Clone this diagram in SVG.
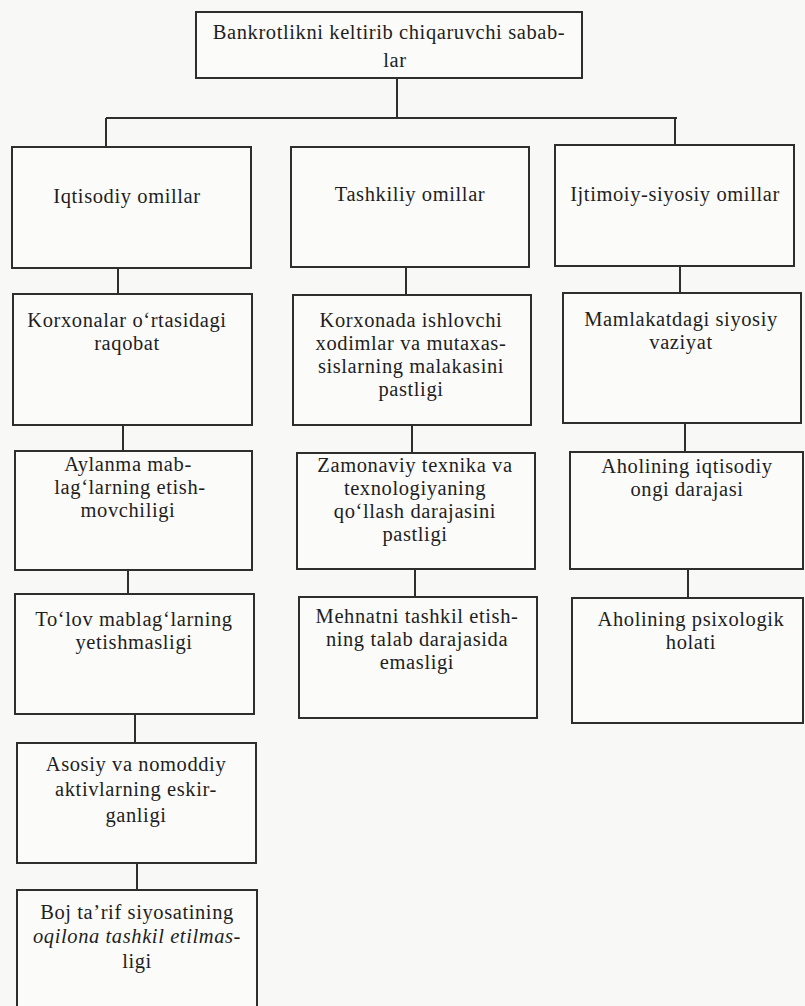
<svg xmlns="http://www.w3.org/2000/svg" width="805" height="1006" viewBox="0 0 805 1006">
<style>
.bg{fill:#f8f8f6}
.box{fill:#fbfbfa;stroke:#2e2e2e;stroke-width:2}
.ln{stroke:#2e2e2e;stroke-width:2;fill:none}
.t{font-family:'Liberation Serif','Times New Roman','DejaVu Serif',serif;font-size:20.5px;letter-spacing:0.6px;fill:#1e1e1e;text-anchor:middle}
.it{font-style:italic}
</style>
<rect class="bg" x="0" y="0" width="805" height="1006"/>
<g id="connectors">
<line class="ln" x1="397" y1="78" x2="397" y2="118"/>
<line class="ln" x1="106" y1="118" x2="677" y2="118"/>
<line class="ln" x1="106" y1="118" x2="106" y2="147"/>
<line class="ln" x1="675" y1="118" x2="675" y2="145"/>
<line class="ln" x1="118" y1="268" x2="118" y2="294"/>
<line class="ln" x1="123" y1="425" x2="123" y2="451"/>
<line class="ln" x1="128" y1="570" x2="128" y2="594"/>
<line class="ln" x1="135" y1="714" x2="135" y2="743"/>
<line class="ln" x1="137" y1="863" x2="137" y2="890"/>
<line class="ln" x1="406" y1="267" x2="406" y2="295"/>
<line class="ln" x1="412" y1="425" x2="412" y2="453"/>
<line class="ln" x1="415" y1="569" x2="415" y2="597"/>
<line class="ln" x1="680" y1="266" x2="680" y2="293"/>
<line class="ln" x1="685" y1="423" x2="685" y2="452"/>
<line class="ln" x1="688" y1="569" x2="688" y2="598"/>
</g>
<g class="t" font-family="Liberation Serif, Times New Roman, DejaVu Serif, serif">
<g id="root">
<rect class="box" x="196" y="12" width="386" height="66"/>
<text x="389" y="39">Bankrotlikni keltirib chiqaruvchi sabab-</text>
<text x="395" y="67">lar</text>
</g>
<g id="a1">
<rect class="box" x="12" y="147" width="239" height="121"/>
<text x="127" y="203">Iqtisodiy omillar</text>
</g>
<g id="b1">
<rect class="box" x="291" y="147" width="238" height="120"/>
<text x="410" y="201">Tashkiliy omillar</text>
</g>
<g id="c1">
<rect class="box" x="555" y="145" width="239" height="121"/>
<text x="675" y="201">Ijtimoiy-siyosiy omillar</text>
</g>
<g id="a2">
<rect class="box" x="13" y="294" width="239" height="131"/>
<text x="127" y="327">Korxonalar o‘rtasidagi</text>
<text x="127" y="350">raqobat</text>
</g>
<g id="b2">
<rect class="box" x="293" y="295" width="238" height="130"/>
<text x="411" y="327">Korxonada ishlovchi</text>
<text x="411" y="350">xodimlar va mutaxas-</text>
<text x="411" y="373">sislarning malakasini</text>
<text x="411" y="396">pastligi</text>
</g>
<g id="c2">
<rect class="box" x="563" y="293" width="238" height="130"/>
<text x="681" y="326">Mamlakatdagi siyosiy</text>
<text x="681" y="349">vaziyat</text>
</g>
<g id="a3">
<rect class="box" x="15" y="451" width="237" height="119"/>
<text x="128" y="471">Aylanma mab-</text>
<text x="130" y="494">lag‘larning etish-</text>
<text x="128" y="517">movchiligi</text>
</g>
<g id="b3">
<rect class="box" x="297" y="453" width="238" height="116"/>
<text x="415" y="472">Zamonaviy texnika va</text>
<text x="415" y="495">texnologiyaning</text>
<text x="415" y="518">qo‘llash darajasini</text>
<text x="415" y="541">pastligi</text>
</g>
<g id="c3">
<rect class="box" x="570" y="452" width="233" height="117"/>
<text x="687" y="473">Aholining iqtisodiy</text>
<text x="687" y="496">ongi darajasi</text>
</g>
<g id="a4">
<rect class="box" x="15" y="594" width="239" height="120"/>
<text x="134" y="626">To‘lov mablag‘larning</text>
<text x="134" y="649">yetishmasligi</text>
</g>
<g id="b4">
<rect class="box" x="299" y="597" width="238" height="121"/>
<text x="417" y="623">Mehnatni tashkil etish-</text>
<text x="417" y="646">ning talab darajasida</text>
<text x="417" y="669">emasligi</text>
</g>
<g id="c4">
<rect class="box" x="572" y="598" width="231" height="125"/>
<text x="691" y="626">Aholining psixologik</text>
<text x="691" y="649">holati</text>
</g>
<g id="a5">
<rect class="box" x="17" y="743" width="239" height="120"/>
<text x="136" y="771">Asosiy va nomoddiy</text>
<text x="136" y="796">aktivlarning eskir-</text>
<text x="136" y="822">ganligi</text>
</g>
<g id="a6">
<rect class="box" x="17" y="890" width="240" height="130"/>
<text x="137" y="919">Boj ta’rif siyosatining</text>
<text class="it" x="137" y="943">oqilona tashkil etilmas-</text>
<text x="137" y="968">ligi</text>
</g>
</g>
</svg>
